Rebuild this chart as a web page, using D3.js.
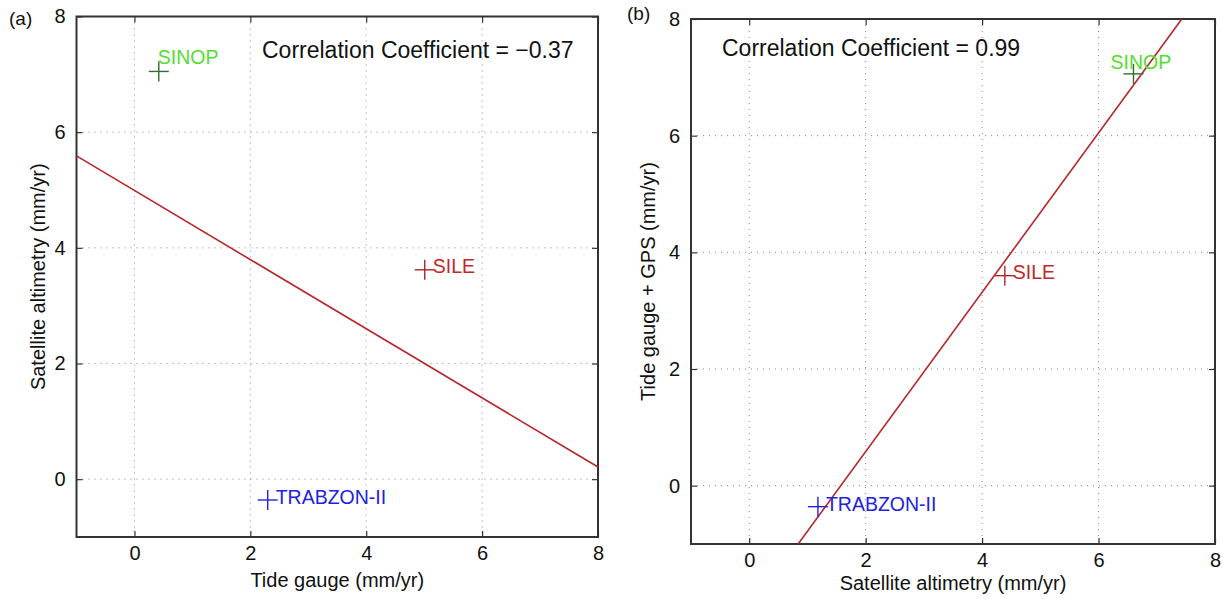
<!DOCTYPE html>
<html><head><meta charset="utf-8">
<script src="https://cdn.jsdelivr.net/npm/d3@7"></script>
<style>body{margin:0;background:#fff}svg{display:block;font-family:"Liberation Sans",Arial,sans-serif}</style>
</head><body><svg id="c" width="1223" height="599"></svg>
<script>
// ---- data ----
const stations = ["SINOP", "SILE", "TRABZON-II"];
const tideGauge = [0.42, 5.01, 2.30];          // panel (a) x
const altimetryA = [7.05, 3.62, -0.36];        // panel (a) y
const altimetryB = [6.60, 4.39, 1.18];         // panel (b) x
const tideGps = [7.06, 3.60, -0.36];           // panel (b) y
const fitAx = [-1, 8], fitAy = [5.59, 0.21];
const fitBx = [0.84, 7.43], fitBy = [-1, 8];
const ticks = [0, 2, 4, 6, 8];
const corrA = "Correlation Coefficient = \u22120.37";
const corrB = "Correlation Coefficient = 0.99";

const textColors = ["#55dd2e", "#c0282d", "#2222dd"];
const crossColors = ["#2f6f2f", "#a8262b", "#2222dd"];

const svg = d3.select("#c");

function panel(o) {
  const x = d3.scaleLinear().domain([-1, 8]).range([o.left, o.right]);
  const y = d3.scaleLinear().domain([-1, 8]).range([o.bottom, o.top]);
  const g = svg.append("g");
  // grid
  const grid = ticks.filter(t => t < 8);
  g.selectAll(".gx").data(grid).join("line")
    .attr("x1", d => x(d)).attr("x2", d => x(d)).attr("y1", o.top).attr("y2", o.bottom)
    .attr("stroke", "#888").attr("stroke-width", 1).attr("stroke-dasharray", "1,5");
  g.selectAll(".gy").data(grid).join("line")
    .attr("y1", d => y(d)).attr("y2", d => y(d)).attr("x1", o.left).attr("x2", o.right)
    .attr("stroke", "#888").attr("stroke-width", 1).attr("stroke-dasharray", "1,5");
  // axes
  const ax = d3.axisBottom(x).tickValues(ticks).tickSize(-6).tickPadding(9).tickFormat(d3.format("d"));
  const ay = d3.axisLeft(y).tickValues(ticks).tickSize(-6).tickPadding(11).tickFormat(d3.format("d"));
  const axT = d3.axisTop(x).tickValues(ticks).tickSize(-6).tickFormat("");
  const ayR = d3.axisRight(y).tickValues(ticks).tickSize(-6).tickFormat("");
  const style = s => {
    s.selectAll("path").attr("stroke", "#333").attr("stroke-width", 2);
    s.selectAll("line").attr("stroke", "#333").attr("stroke-width", 1.2);
    s.selectAll("text").attr("fill", "#111").style("font-size", "20px").style("font-family", "Liberation Sans, Arial, sans-serif");
  };
  g.append("g").attr("transform", `translate(0,${o.bottom})`).call(ax).call(style);
  g.append("g").attr("transform", `translate(${o.left},0)`).call(ay).call(style);
  g.append("g").attr("transform", `translate(0,${o.top})`).call(axT).call(style);
  g.append("g").attr("transform", `translate(${o.right},0)`).call(ayR).call(style);
  g.selectAll(".domain").attr("d", null);
  g.append("rect").attr("x", o.left).attr("y", o.top).attr("width", o.right - o.left).attr("height", o.bottom - o.top)
    .attr("fill", "none").attr("stroke", "#333").attr("stroke-width", 2);
  // fit line
  g.append("line").attr("x1", x(o.fx[0])).attr("y1", y(o.fy[0])).attr("x2", x(o.fx[1])).attr("y2", y(o.fy[1]))
    .attr("stroke", "#b8262a").attr("stroke-width", 1.6);
  // crosses
  const pts = o.xs.map((v, i) => ({x: v, y: o.ys[i], i}));
  const cs = 10;
  pts.forEach(p => {
    g.append("line").attr("x1", x(p.x) - cs).attr("x2", x(p.x) + cs).attr("y1", y(p.y)).attr("y2", y(p.y))
      .attr("stroke", crossColors[p.i]).attr("stroke-width", 1.4);
    g.append("line").attr("x1", x(p.x)).attr("x2", x(p.x)).attr("y1", y(p.y) - cs).attr("y2", y(p.y) + cs)
      .attr("stroke", crossColors[p.i]).attr("stroke-width", 1.4);
    const off = o.labelOff[p.i];
    g.append("text").attr("x", x(p.x) + off[0]).attr("y", y(p.y) + off[1]).attr("dominant-baseline", "central")
      .attr("fill", textColors[p.i]).style("font-size", "19.5px").text(stations[p.i]);
  });
  // correlation text
  g.append("text").attr("x", o.corrPos[0]).attr("y", o.corrPos[1]).attr("dominant-baseline", "central")
    .attr("fill", "#111").style("font-size", "23px").text(o.corr);
  // axis titles
  g.append("text").attr("x", (o.left + o.right) / 2).attr("y", o.xTitleY).attr("text-anchor", "middle").attr("dominant-baseline", "central")
    .attr("fill", "#111").style("font-size", "20px").text(o.xTitle);
  g.append("text").attr("transform", `translate(${o.yTitleX},${(o.top + o.bottom) / 2}) rotate(-90)`).attr("text-anchor", "middle")
    .attr("dominant-baseline", "central").attr("fill", "#111").style("font-size", "20px").text(o.yTitle);
  g.append("text").attr("x", o.tagPos[0]).attr("y", o.tagPos[1]).attr("dominant-baseline", "central")
    .attr("fill", "#111").style("font-size", "19px").text(o.tag);
}

panel({left: 76.5, right: 598, top: 16.5, bottom: 537, xs: tideGauge, ys: altimetryA, fx: fitAx, fy: fitAy,
  labelOff: [[-1, -14], [8, -4], [8, -3]], corr: corrA, corrPos: [262, 50],
  xTitle: "Tide gauge (mm/yr)", xTitleY: 580, yTitle: "Satellite altimetry (mm/yr)", yTitleX: 38,
  tag: "(a)", tagPos: [9, 18]});
panel({left: 691, right: 1215, top: 19, bottom: 544, xs: altimetryB, ys: tideGps, fx: fitBx, fy: fitBy,
  labelOff: [[-23, -12], [8, -4], [8, -3]], corr: corrB, corrPos: [722, 48],
  xTitle: "Satellite altimetry (mm/yr)", xTitleY: 583, yTitle: "Tide gauge + GPS (mm/yr)", yTitleX: 648,
  tag: "(b)", tagPos: [627, 13]});
</script></body></html>
